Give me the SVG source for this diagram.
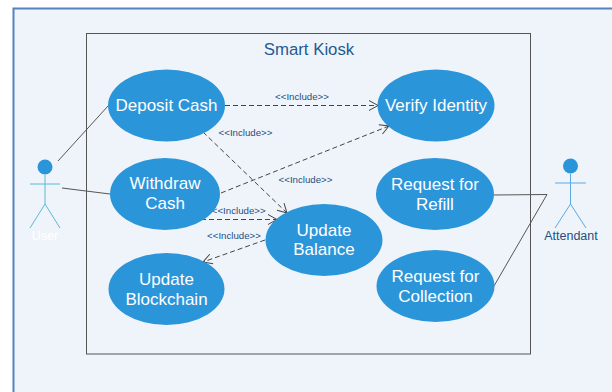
<svg xmlns="http://www.w3.org/2000/svg" width="612" height="392" viewBox="0 0 612 392">
<defs>
<marker id="open" markerUnits="userSpaceOnUse" markerWidth="14" markerHeight="14" refX="10" refY="6" orient="auto"><path d="M1 1L10 6L1 11" fill="none" stroke="#444" stroke-width="1"/></marker>
</defs>
<style>
.uc{fill:#2b95da}
.t{font-family:"Liberation Sans",Arial,sans-serif;font-size:17px;fill:#fff;text-anchor:middle}
.l{font-family:"Liberation Sans",Arial,sans-serif;font-size:9.700px;fill:#1f4f82;text-anchor:middle}
.d{fill:none;stroke:#444;stroke-width:1;stroke-dasharray:5 3;marker-end:url(#open)}
.s{fill:none;stroke:#555;stroke-width:1}
.a{fill:none;stroke-width:1}
</style>
<rect width="612" height="392" fill="#fff"/>
<rect x="13.500" y="8.500" width="610" height="395" fill="#eff4fa" stroke="#5482c2" stroke-width="2"/>
<rect id="boundary" x="86.500" y="33.500" width="444" height="320.500" fill="none" stroke="#555" stroke-width="1"/>
<text id="title" x="309" y="55" font-family="Liberation Sans,Arial,sans-serif" font-size="16.800" fill="#1f5a94" text-anchor="middle">Smart Kiosk</text>
<g id="connectors">
<path class="s" d="M58 161L108 106"/>
<path class="s" d="M62 188L110 194"/>
<path class="s" d="M494 195L547 194.500L494 286"/>
<path class="d" d="M225 105.500H378"/>
<path class="d" d="M203 132L287 213"/>
<path class="d" d="M221 193L389 126"/>
<path class="d" d="M201 219.500H277"/>
<path class="d" d="M265 240L203 262"/>
</g>
<text class="l" x="302" y="100">&lt;&lt;Include&gt;&gt;</text>
<text class="l" x="245.500" y="136">&lt;&lt;Include&gt;&gt;</text>
<text class="l" x="305.500" y="183">&lt;&lt;Include&gt;&gt;</text>
<text class="l" x="238.700" y="214">&lt;&lt;Include&gt;&gt;</text>
<text class="l" x="234" y="239">&lt;&lt;Include&gt;&gt;</text>
<g id="uc-deposit"><ellipse class="uc" cx="166.500" cy="105.500" rx="58.500" ry="36"/><text class="t" x="166.500" y="111">Deposit Cash</text></g>
<g id="uc-withdraw"><ellipse class="uc" cx="165" cy="194" rx="55" ry="36"/><text class="t" x="165" y="189">Withdraw</text><text class="t" x="165" y="209">Cash</text></g>
<g id="uc-blockchain"><ellipse class="uc" cx="166.500" cy="289" rx="58" ry="36"/><text class="t" x="166.500" y="285">Update</text><text class="t" x="166.500" y="305">Blockchain</text></g>
<g id="uc-balance"><ellipse class="uc" cx="324" cy="240" rx="58.500" ry="36"/><text class="t" x="324" y="236">Update</text><text class="t" x="324" y="255">Balance</text></g>
<g id="uc-verify"><ellipse class="uc" cx="436" cy="105.500" rx="58.500" ry="36"/><text class="t" x="436" y="111">Verify Identity</text></g>
<g id="uc-refill"><ellipse class="uc" cx="435" cy="194" rx="59" ry="36"/><text class="t" x="435" y="190">Request for</text><text class="t" x="435" y="210">Refill</text></g>
<g id="uc-collection"><ellipse class="uc" cx="435.500" cy="286" rx="59" ry="36"/><text class="t" x="435.500" y="282">Request for</text><text class="t" x="435.500" y="302">Collection</text></g>
<g id="actor-user"><circle cx="45" cy="167" r="7.500" fill="#2b95da"/><path class="a" stroke="#5bb8d8" d="M45 175V204M30 184H60M30 228L45 204L60 228"/><text x="45" y="240" font-family="Liberation Sans,Arial,sans-serif" font-size="12.500" fill="#fff" text-anchor="middle">User</text></g>
<g id="actor-attendant"><circle cx="570.500" cy="166" r="7.500" fill="#2b95da"/><path class="a" stroke="#5aa9e6" d="M570.500 174V204M555 183H586M555 228L570.500 204L586 228"/><text x="571" y="240" font-family="Liberation Sans,Arial,sans-serif" font-size="12.500" fill="#1f4f82" text-anchor="middle">Attendant</text></g>
</svg>
